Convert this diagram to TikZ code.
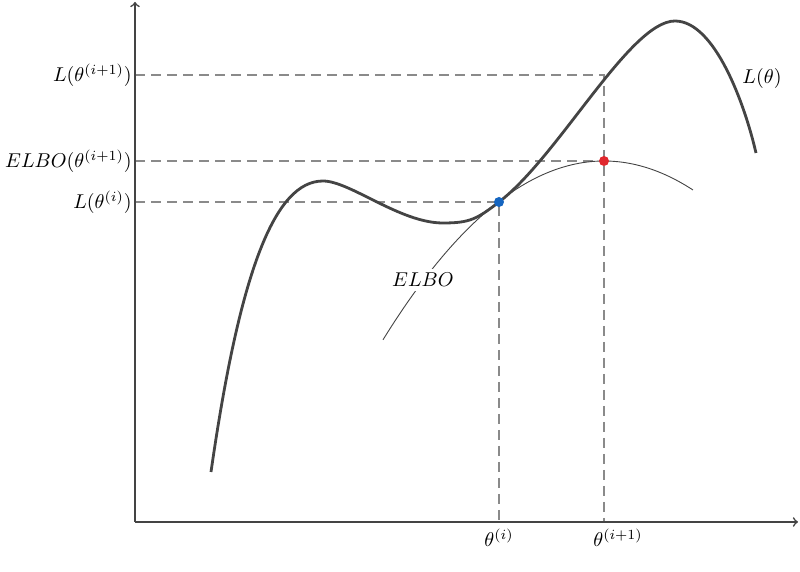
\documentclass[tikz,border=0pt]{standalone}
\usetikzlibrary{calc,positioning}
\definecolor{curvegray}{HTML}{444444}
\definecolor{guidegray}{HTML}{8A8A8A}
\definecolor{dotblue}{HTML}{1565C0}
\definecolor{dotred}{HTML}{E0282E}
\begin{document}
\begin{tikzpicture}[x=0.5pt,y=-0.5pt,
  axis/.style={->,line width=0.8pt,curvegray},
  guide/.style={guidegray,line width=0.7pt,dash pattern=on 5pt off 3pt},
  lcurve/.style={curvegray,line width=1.4pt},
  ecurve/.style={curvegray,line width=0.45pt},
  dot/.style={circle,inner sep=0pt,minimum size=5pt}]
\useasboundingbox (0,0) rectangle (800,572);
\coordinate (O) at (135,522);
\coordinate (xend) at (798,522);
\coordinate (yend) at (135,2);
\coordinate (Pi) at (499,202);
\coordinate (Pe) at (604,161);
\coordinate (Pl) at (604,75);
% guide lines
\draw[guide] (O |- Pl) -- (Pl) -- (Pl |- O);
\draw[guide] (O |- Pe) -- (Pe);
\draw[guide] (O |- Pi) -- (Pi) -- (Pi |- O);
% axes
\draw[axis] (O) -- (xend);
\draw[axis] (O) -- (yend);
% L(theta) and ELBO
\draw[lcurve] (211,472) .. controls (240,270) and (275,181) .. (323,181)
  .. controls (350,181) and (400,223) .. (443,223)
  .. controls (470,223) and (477,219) .. (Pi)
  .. controls (559,156) and (630,21) .. (675,21)
  .. controls (715,21) and (745,105) .. (756,153);
\draw[ecurve] plot[domain=383:693,samples=80] (\x,{161+(0.0605*(\x-604))^2});
\node[fill=white,inner sep=2pt] (elbo) at (423,280) {$ELBO$};
\node (ltheta) at (762,79) {$L(\theta)$};
% points
\node[dot,fill=dotblue] (ti) at (Pi) {};
\node[dot,fill=dotred] (te) at (Pe) {};
% axis labels
\node[left,inner sep=1.5pt] (lnext) at (O |- Pl) {$L(\theta^{(i+1)})$};
\node[left,inner sep=1.5pt] (enext) at (O |- Pe) {$ELBO(\theta^{(i+1)})$};
\node[left,inner sep=1.5pt] (lcur) at (O |- Pi) {$L(\theta^{(i)})$};
\node[below] (thcur) at (Pi |- O) {$\theta^{(i)}$};
\node[below,xshift=7pt] (thnext) at (Pl |- O) {$\theta^{(i+1)}$};
\end{tikzpicture}
\end{document}
